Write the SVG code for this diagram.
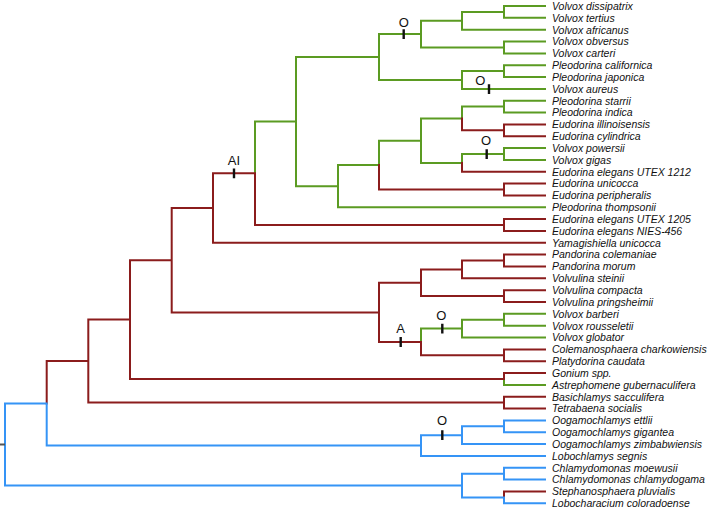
<svg xmlns="http://www.w3.org/2000/svg" width="709" height="509" viewBox="0 0 709 509">
<style>
.g{fill:none;stroke:#5b9b22;stroke-width:2;stroke-linecap:square}
.r{fill:none;stroke:#8b1c1c;stroke-width:2;stroke-linecap:square}
.b{fill:none;stroke:#3594f6;stroke-width:2;stroke-linecap:square}
.k{fill:none;stroke:#111;stroke-width:2.4}
.t{font-family:"Liberation Sans",Arial,sans-serif;font-style:italic;font-size:10.5px;fill:#111}
.m{font-family:"Liberation Sans",Arial,sans-serif;font-size:13px;fill:#111;text-anchor:middle}
</style>
<rect width="709" height="509" fill="#fff"/>
<g id="connectors">
<path class="g" d="M504,6H545M504,17.8H545M504,6V17.8M462,11.9H504M462,29.7H545M462,11.9V29.7M504,41.5H545M504,53.4H545M504,41.5V53.4M421,20.8H462M421,47.4H504M421,20.8V47.4M379,34.1H421M504,65.2H545M504,77H545M504,65.2V77M462,71.1H504M462,88.9H545M462,71.1V88.9M379,80H462M379,34.1V80M296,57.1H379M504,100.7H545M504,112.6H545M504,100.7V112.6M462,106.6H504M462,106.6V118.5M421,118.5H462M504,148.1H545M504,159.9H545M504,148.1V159.9M462,154H504M462,154V162.9M421,162.9H462M421,118.5V162.9M379,140.7H421M379,140.7V165.1M338,165.1H379M338,207.3H545M338,165.1V207.3M296,186.2H338M296,57.1V186.2M255,121.6H296M255,121.6V173.3M504,313.8H545M504,325.7H545M504,313.8V325.7M462,319.8H504M462,337.5H545M462,319.8V337.5M421,328.6H462M421,328.6V342M504,379V384.9H545"/>
<path class="r" d="M504,124.4H545M504,136.2H545M504,124.4V136.2M462,130.3H504M462,118.5V130.3M462,171.8H545M462,162.9V171.8M504,183.6H545M504,195.4H545M504,183.6V195.4M379,189.5H504M379,165.1V189.5M504,219.1H545M504,231H545M504,219.1V231M255,225H504M255,173.3V225M213,173.3H255M213,242.8H545M213,173.3V242.8M171.7,208H213M504,254.6H545M504,266.5H545M504,254.6V266.5M462,260.6H504M462,278.3H545M462,260.6V278.3M504,290.2H545M504,302H545M504,290.2V302M421,296.1H504M421,269.5H462M421,269.5V296.1M379,282.8H421M504,349.4H545M504,361.2H545M504,349.4V361.2M421,355.3H504M421,342V355.3M379,342H421M379,282.8V342M171.7,312.4H379M171.7,208V312.4M130,260.2H171.7M504,373H545M504,373V379M130,379H504M130,260.2V379M88.3,319.6H130M504,396.7H545M504,408.6H545M504,396.7V408.6M88.3,402.6H504M88.3,319.6V402.6M46.7,361.1H88.3M46.7,361.1V403.4M504,491.4H545M504,491.4V497.4"/>
<path class="b" d="M504,420.4H545M504,432.2H545M504,420.4V432.2M462,426.3H504M462,444.1H545M462,426.3V444.1M421,435.2H462M421,455.9H545M421,435.2V455.9M46.7,445.6H421M46.7,403.4V445.6M5,403.4H46.7M504,467.8H545M504,479.6H545M504,467.8V479.6M462,473.7H504M504,497.4V503.3H545M462,497.4H504M462,473.7V497.4M5,485.5H462M5,403.4V485.5"/>
<path d="M0,444.5H5" fill="none" stroke="#555" stroke-width="2"/>
</g>
<g id="events">
<path class="k" d="M403.7,29.2V39M489,84.2V94M486.7,149.2V159M234,168.5V178.3M400.7,337V347M442.3,323.7V333.5M442.3,430.3V440.1"/>
<text class="m" x="403.7" y="26.8">O</text>
<text class="m" x="480.3" y="84.7">O</text>
<text class="m" x="486" y="145.3">O</text>
<text class="m" x="234" y="165.2">AI</text>
<text class="m" x="400.5" y="333.4">A</text>
<text class="m" x="441.3" y="320">O</text>
<text class="m" x="442" y="425.3">O</text>
</g>
<g id="taxa">
<g id="t1"><text class="t" x="552" y="9.8">Volvox dissipatrix</text></g>
<g id="t2"><text class="t" x="552" y="21.6">Volvox tertius</text></g>
<g id="t3"><text class="t" x="552" y="33.5">Volvox africanus</text></g>
<g id="t4"><text class="t" x="552" y="45.3">Volvox obversus</text></g>
<g id="t5"><text class="t" x="552" y="57.2">Volvox carteri</text></g>
<g id="t6"><text class="t" x="552" y="69">Pleodorina californica</text></g>
<g id="t7"><text class="t" x="552" y="80.8">Pleodorina japonica</text></g>
<g id="t8"><text class="t" x="552" y="92.7">Volvox aureus</text></g>
<g id="t9"><text class="t" x="552" y="104.5">Pleodorina starrii</text></g>
<g id="t10"><text class="t" x="552" y="116.4">Pleodorina indica</text></g>
<g id="t11"><text class="t" x="552" y="128.2">Eudorina illinoisensis</text></g>
<g id="t12"><text class="t" x="552" y="140">Eudorina cylindrica</text></g>
<g id="t13"><text class="t" x="552" y="151.9">Volvox powersii</text></g>
<g id="t14"><text class="t" x="552" y="163.7">Volvox gigas</text></g>
<g id="t15"><text class="t" x="552" y="175.6">Eudorina elegans UTEX 1212</text></g>
<g id="t16"><text class="t" x="552" y="187.4">Eudorina unicocca</text></g>
<g id="t17"><text class="t" x="552" y="199.2">Eudorina peripheralis</text></g>
<g id="t18"><text class="t" x="552" y="211.1">Pleodorina thompsonii</text></g>
<g id="t19"><text class="t" x="552" y="222.9">Eudorina elegans UTEX 1205</text></g>
<g id="t20"><text class="t" x="552" y="234.8">Eudorina elegans NIES-456</text></g>
<g id="t21"><text class="t" x="552" y="246.6">Yamagishiella unicocca</text></g>
<g id="t22"><text class="t" x="552" y="258.4">Pandorina colemaniae</text></g>
<g id="t23"><text class="t" x="552" y="270.3">Pandorina morum</text></g>
<g id="t24"><text class="t" x="552" y="282.1">Volvulina steinii</text></g>
<g id="t25"><text class="t" x="552" y="294">Volvulina compacta</text></g>
<g id="t26"><text class="t" x="552" y="305.8">Volvulina pringsheimii</text></g>
<g id="t27"><text class="t" x="552" y="317.6">Volvox barberi</text></g>
<g id="t28"><text class="t" x="552" y="329.5">Volvox rousseletii</text></g>
<g id="t29"><text class="t" x="552" y="341.3">Volvox globator</text></g>
<g id="t30"><text class="t" x="552" y="353.2">Colemanosphaera charkowiensis</text></g>
<g id="t31"><text class="t" x="552" y="365">Platydorina caudata</text></g>
<g id="t32"><text class="t" x="552" y="376.8">Gonium spp.</text></g>
<g id="t33"><text class="t" x="552" y="388.7">Astrephomene gubernaculifera</text></g>
<g id="t34"><text class="t" x="552" y="400.5">Basichlamys sacculifera</text></g>
<g id="t35"><text class="t" x="552" y="412.4">Tetrabaena socialis</text></g>
<g id="t36"><text class="t" x="552" y="424.2">Oogamochlamys ettlii</text></g>
<g id="t37"><text class="t" x="552" y="436">Oogamochlamys gigantea</text></g>
<g id="t38"><text class="t" x="552" y="447.9">Oogamochlamys zimbabwiensis</text></g>
<g id="t39"><text class="t" x="552" y="459.7">Lobochlamys segnis</text></g>
<g id="t40"><text class="t" x="552" y="471.6">Chlamydomonas moewusii</text></g>
<g id="t41"><text class="t" x="552" y="483.4">Chlamydomonas chlamydogama</text></g>
<g id="t42"><text class="t" x="552" y="495.2">Stephanosphaera pluvialis</text></g>
<g id="t43"><text class="t" x="552" y="507.1">Lobocharacium coloradoense</text></g>
</g>
</svg>
